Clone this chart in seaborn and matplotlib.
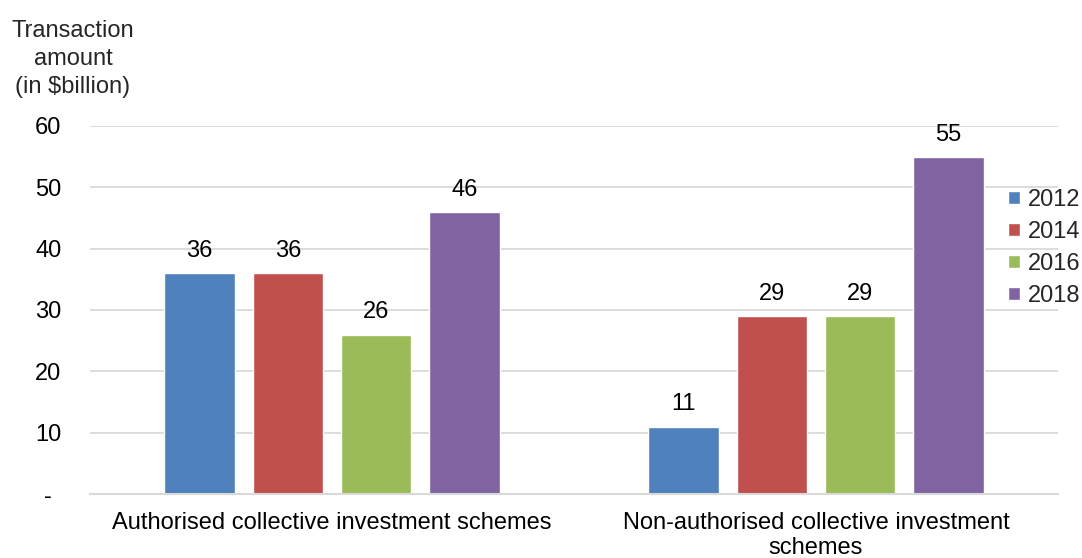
import matplotlib
matplotlib.use("Agg")
import matplotlib.pyplot as plt
import seaborn as sns
import pandas as pd

categories = ["Authorised collective investment schemes",
              "Non-authorised collective investment\nschemes"]
years = ["2012", "2014", "2016", "2018"]
values_2012 = [36, 11]
values_2014 = [36, 29]
values_2016 = [26, 29]
values_2018 = [46, 55]
colors = ["#4F81BD", "#C0504D", "#9BBB59", "#8064A2"]
yticks = [0, 10, 20, 30, 40, 50, 60]
ytick_labels = ["-", "10", "20", "30", "40", "50", "60"]

rows = []
for yr, vals in zip(years, [values_2012, values_2014, values_2016, values_2018]):
    for c, v in zip(categories, vals):
        rows.append({"category": c, "year": yr, "value": v})
df = pd.DataFrame(rows)

sns.set_theme(style="white")
plt.rcParams['font.family'] = ['Liberation Sans', 'DejaVu Sans']
FS = 17

fig = plt.figure(figsize=(10.82, 5.58), dpi=100)
ax = fig.add_axes([90/1082, 1-494/558, 968/1082, 368/558])

sns.barplot(data=df, x="category", y="value", hue="year", order=categories,
            hue_order=years, palette=colors, width=0.73, gap=0.2,
            saturation=1, ax=ax, legend=True)

ax.set_ylim(0, 60)
ax.set_xlim(-0.5, 1.5)
ax.set_yticks(yticks)
ax.set_yticklabels(ytick_labels)
ax.yaxis.grid(True, color="#D9D9D9", linewidth=1.3)
ax.set_axisbelow(True)
for s in ["top", "right", "left"]:
    ax.spines[s].set_visible(False)
ax.spines["bottom"].set_color("#D9D9D9")
ax.spines["bottom"].set_linewidth(1.5)
ax.tick_params(axis="y", length=0, pad=30, labelsize=FS, labelcolor="black")
ax.tick_params(axis="x", length=0, pad=13, labelsize=FS, labelcolor="black")
for lbl in ax.get_yticklabels():
    lbl.set_horizontalalignment("center")
for lbl in ax.get_xticklabels():
    lbl.set_linespacing(1.18)
ax.set_xlabel("")
ax.set_ylabel("")

for cont in ax.containers:
    ax.bar_label(cont, labels=[f"{int(v)}" for v in cont.datavalues],
                 padding=8, fontsize=FS, color="black")

handles, labels = ax.get_legend_handles_labels()
ax.legend_.remove()
fig.legend(handles, labels, loc="upper left", bbox_to_anchor=(1008/1082, 1-189/558),
           frameon=False, fontsize=FS, handlelength=0.5, handleheight=0.5,
           handletextpad=0.35, labelspacing=0.42, borderaxespad=0, borderpad=0)

fig.text(73/1082, 1-20/558, "Transaction\namount\n(in $billion)", ha="center",
         va="top", fontsize=FS, linespacing=1.35)

fig.savefig("out.png", dpi=100)
